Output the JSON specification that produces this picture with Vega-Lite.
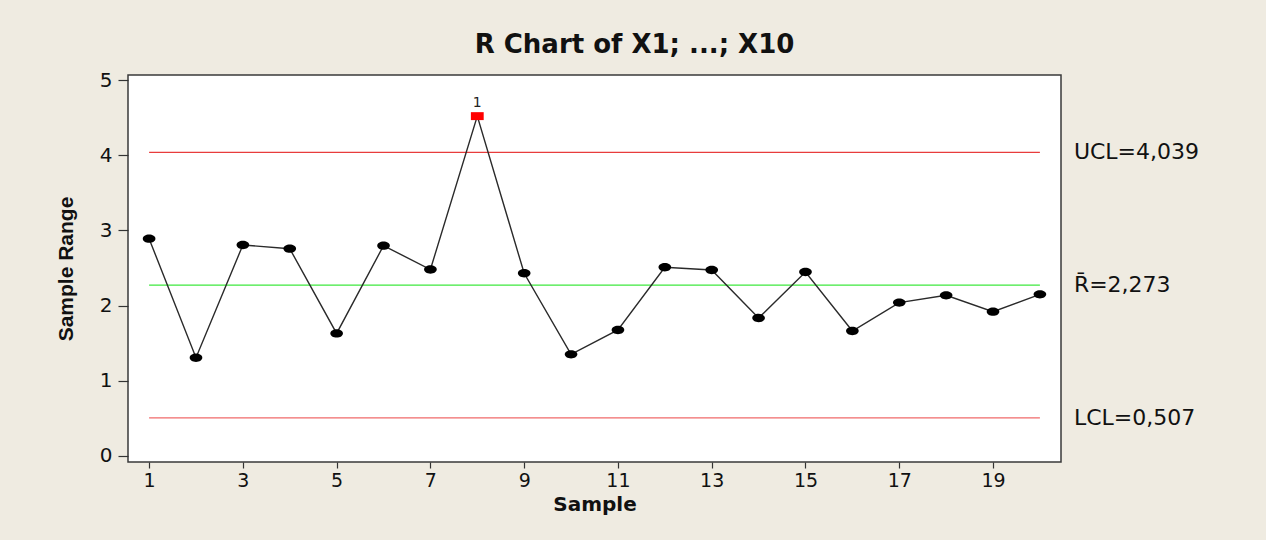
{
  "$schema": "https://vega.github.io/schema/vega-lite/v6.json",
  "width": 933,
  "height": 387,
  "autosize": {"type": "none"},
  "padding": {"left": 128, "top": 75, "right": 205, "bottom": 78},
  "background": "#efebe1",
  "title": {
    "text": "R Chart of X1; ...; X10",
    "font": "DejaVu Sans",
    "fontWeight": "bold",
    "fontSize": 26,
    "color": "#111111",
    "anchor": "middle",
    "baseline": "alphabetic",
    "dx": 40,
    "dy": 29,
    "offset": 20
  },
  "datasets": {
    "ranges": [
      {"sample": 1, "range": 2.89},
      {"sample": 2, "range": 1.307},
      {"sample": 3, "range": 2.806},
      {"sample": 4, "range": 2.757},
      {"sample": 5, "range": 1.63},
      {"sample": 6, "range": 2.797},
      {"sample": 7, "range": 2.48},
      {"sample": 8, "range": 4.52},
      {"sample": 9, "range": 2.43},
      {"sample": 10, "range": 1.352},
      {"sample": 11, "range": 1.676},
      {"sample": 12, "range": 2.51},
      {"sample": 13, "range": 2.473},
      {"sample": 14, "range": 1.835},
      {"sample": 15, "range": 2.447},
      {"sample": 16, "range": 1.662},
      {"sample": 17, "range": 2.04},
      {"sample": 18, "range": 2.137},
      {"sample": 19, "range": 1.919},
      {"sample": 20, "range": 2.15}
    ],
    "limits": [
      {"name": "UCL", "value": 4.039, "label": "UCL=4,039"},
      {"name": "Rbar", "value": 2.273, "label": "R\u0304=2,273"},
      {"name": "LCL", "value": 0.507, "label": "LCL=0,507"}
    ]
  },
  "layer": [
    {
      "data": {"name": "limits"},
      "mark": {"type": "rule", "strokeWidth": 1.2},
      "encoding": {
        "x": {"datum": 1, "type": "quantitative"},
        "x2": {"datum": 20},
        "y": {"field": "value", "type": "quantitative"},
        "color": {
          "field": "name",
          "type": "nominal",
          "scale": {"domain": ["UCL", "Rbar", "LCL"], "range": ["#e83c3c", "#3ee83e", "#f06a6a"]},
          "legend": null
        }
      }
    },
    {
      "data": {"name": "limits"},
      "mark": {"type": "text", "align": "left", "baseline": "middle", "dx": 34, "font": "DejaVu Sans", "fontSize": 22, "color": "#111111"},
      "encoding": {
        "x": {"datum": 20, "type": "quantitative"},
        "y": {"field": "value", "type": "quantitative"},
        "text": {"field": "label"}
      }
    },
    {
      "data": {"name": "ranges"},
      "mark": {"type": "line", "color": "#2a2a2a", "strokeWidth": 1.4},
      "encoding": {
        "x": {"field": "sample", "type": "quantitative"},
        "y": {"field": "range", "type": "quantitative"}
      }
    },
    {
      "data": {"name": "ranges"},
      "transform": [{"filter": "datum.range <= 4.039"}],
      "mark": {"type": "point", "shape": "M-1,0A1,0.66 0 1,0 1,0A1,0.66 0 1,0 -1,0Z", "size": 160, "filled": true, "color": "#000000", "opacity": 1},
      "encoding": {
        "x": {"field": "sample", "type": "quantitative"},
        "y": {"field": "range", "type": "quantitative"}
      }
    },
    {
      "data": {"name": "ranges"},
      "transform": [{"filter": "datum.range > 4.039"}],
      "mark": {"type": "point", "shape": "M-1,-0.62H1V0.62H-1Z", "size": 164, "filled": true, "color": "#ff0000", "opacity": 1},
      "encoding": {
        "x": {"field": "sample", "type": "quantitative"},
        "y": {"field": "range", "type": "quantitative"}
      }
    },
    {
      "data": {"name": "ranges"},
      "transform": [{"filter": "datum.range > 4.039"}],
      "mark": {"type": "text", "text": "1", "baseline": "alphabetic", "align": "center", "dy": -9, "font": "DejaVu Sans", "fontSize": 14, "color": "#222222"},
      "encoding": {
        "x": {"field": "sample", "type": "quantitative"},
        "y": {"field": "range", "type": "quantitative"}
      }
    }
  ],
  "resolve": {"scale": {"color": "independent"}},
  "encoding": {
    "x": {
      "type": "quantitative",
      "scale": {"domain": [0.55, 20.45], "nice": false, "zero": false},
      "axis": {
        "title": "Sample",
        "values": [1, 3, 5, 7, 9, 11, 13, 15, 17, 19],
        "format": "d",
        "grid": false,
        "domain": false,
        "tickSize": 6,
        "labelPadding": 3,
        "labelFontSize": 19,
        "titleFont": "DejaVu Sans",
        "titleFontWeight": "bold",
        "titleFontSize": 20,
        "titleColor": "#111111",
        "titleBaseline": "alphabetic",
        "titleY": 48
      }
    },
    "y": {
      "type": "quantitative",
      "scale": {"domain": [-0.08, 5.067], "nice": false, "zero": false},
      "axis": {
        "title": "Sample Range",
        "values": [0, 1, 2, 3, 4, 5],
        "format": "d",
        "grid": false,
        "domain": false,
        "tickSize": 10,
        "labelPadding": 6,
        "titleFont": "Liberation Sans",
        "titleFontWeight": "bold",
        "titleFontSize": 21,
        "titleColor": "#111111",
        "titleAngle": 270,
        "titleAlign": "center",
        "titleBaseline": "alphabetic",
        "titleX": -56,
        "titleY": 193.5
      }
    }
  },
  "config": {
    "view": {"stroke": "#3a3a3a", "strokeWidth": 1.5, "fill": "#ffffff"},
    "axis": {
      "labelFont": "DejaVu Sans",
      "labelFontSize": 20,
      "labelColor": "#111111",
      "tickColor": "#333333",
      "tickWidth": 1.2
    }
  }
}
